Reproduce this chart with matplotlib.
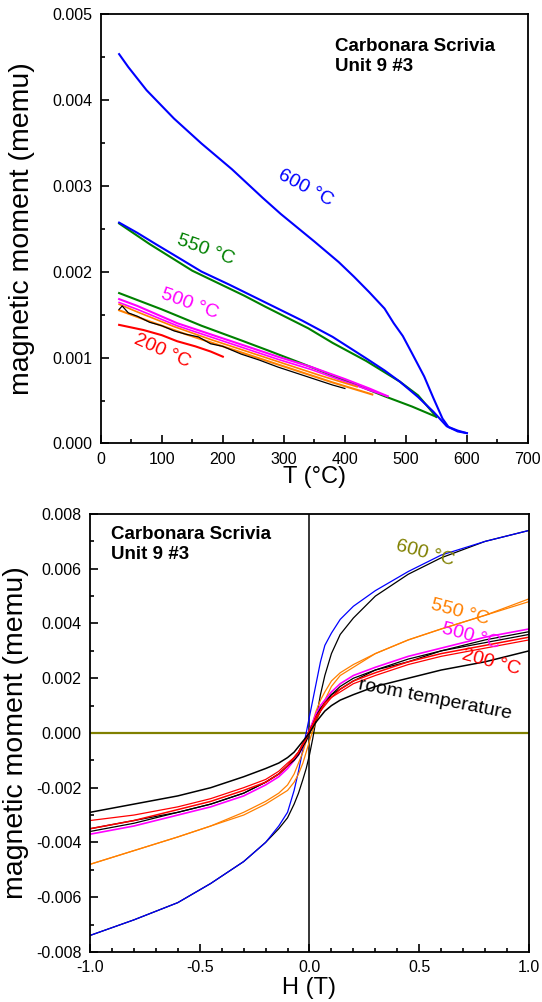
import matplotlib
matplotlib.use('Agg')
import matplotlib.pyplot as plt
from matplotlib.ticker import MultipleLocator, FormatStrFormatter

plt.rcParams['font.family'] = ['Liberation Sans', 'DejaVu Sans']
plt.rcParams['axes.unicode_minus'] = False

# ---- top panel: M(T) heating curves ----
T600a = [30, 45, 75, 120, 165, 215, 265, 295, 350, 390, 415, 440, 465, 480, 495, 510, 530, 545, 560, 570, 585, 600]
M600a = [0.00453, 0.00438, 0.00411, 0.00378, 0.00349, 0.00319, 0.00286, 0.00267, 0.00235, 0.00211, 0.00194,
         0.00176, 0.00157, 0.00140, 0.00125, 0.00105, 0.00078, 0.00053, 0.00029, 0.00019, 0.00014, 0.00012]
T600b = [30, 60, 90, 130, 165, 210, 250, 290, 330, 380, 435, 465, 490, 520, 545, 567, 585, 600]
M600b = [0.00257, 0.00245, 0.00232, 0.00215, 0.00200, 0.00185, 0.00171, 0.00157, 0.00143, 0.00124, 0.00099,
         0.00085, 0.00072, 0.00054, 0.00037, 0.00020, 0.00015, 0.00012]
T550a = [30, 80, 150, 235, 270, 340, 380, 435, 490, 520, 550]
M550a = [0.00256, 0.00232, 0.00201, 0.00172, 0.00159, 0.00134, 0.00117, 0.00096, 0.00072, 0.00056, 0.00031]
T550b = [30, 100, 165, 230, 275, 330, 380, 430, 465, 510, 550]
M550b = [0.00175, 0.00156, 0.00137, 0.00120, 0.00108, 0.00093, 0.00079, 0.00065, 0.00055, 0.00043, 0.00031]
T500 = [30, 60, 125, 180, 235, 290, 345, 400, 440, 470]
M500a = [0.00168, 0.00160, 0.00140, 0.00127, 0.00114, 0.00101, 0.00089, 0.00075, 0.00064, 0.00055]
M500b = [0.00164, 0.00156, 0.00137, 0.00124, 0.00111, 0.00098, 0.00086, 0.00072, 0.00062, 0.00055]
Tor_a = [30, 80, 140, 200, 260, 320, 380, 445]
Mor_a = [0.00155, 0.00142, 0.00127, 0.00113, 0.00099, 0.00085, 0.00071, 0.00057]
Tor_b = [30, 60, 120, 180, 240, 300, 360, 420]
Mor_b = [0.00162, 0.00153, 0.00136, 0.00121, 0.00107, 0.00093, 0.00079, 0.00066]
Tblk = [30, 35, 45, 60, 80, 100, 120, 140, 160, 180, 200, 230, 260, 290, 320, 350, 380, 400]
Mblk = [0.00156, 0.00160, 0.00152, 0.00148, 0.00141, 0.00137, 0.00131, 0.00127, 0.00124, 0.00116, 0.00113,
        0.00104, 0.00097, 0.00089, 0.00082, 0.00075, 0.00068, 0.00064]
T200 = [30, 70, 100, 125, 155, 180, 200]
M200 = [0.00138, 0.00132, 0.00126, 0.00119, 0.00113, 0.00107, 0.00101]

# ---- bottom panel: hysteresis loops ----
H = [-1.0, -0.8, -0.6, -0.45, -0.3, -0.2, -0.14, -0.1, -0.07, -0.05, -0.03, -0.015, 0.0,
     0.015, 0.03, 0.05, 0.07, 0.1, 0.14, 0.2, 0.3, 0.45, 0.6, 0.8, 1.0]
m600_blue = [-0.0074, -0.00683, -0.0062, -0.0055, -0.0047, -0.0040, -0.0034, -0.0029, -0.0021, -0.0014, -0.0006,
             0.0000, 0.0006, 0.0012, 0.0018, 0.0026, 0.0032, 0.00365, 0.00415, 0.00463, 0.0052, 0.0059, 0.0065,
             0.0070, 0.0074]
m600_black = [-0.0074, -0.00683, -0.0062, -0.0055, -0.0047, -0.0040, -0.0035, -0.0031, -0.0026, -0.0022, -0.0017,
              -0.0013, -0.0008, -0.0002, 0.0005, 0.0014, 0.0021, 0.0029, 0.0036, 0.0042, 0.0050, 0.0058, 0.0064,
              0.0070, 0.0074]
m550_a = [-0.0048, -0.0043, -0.0038, -0.0034, -0.0029, -0.0025, -0.0022, -0.0019, -0.0015, -0.0011, -0.0007,
          -0.0003, 0.0001, 0.0004, 0.0008, 0.0012, 0.0015, 0.0019, 0.0022, 0.0025, 0.0029, 0.0034, 0.0038,
          0.0043, 0.0048]
m550_b = [-0.0048, -0.0043, -0.0038, -0.0034, -0.0030, -0.0026, -0.0023, -0.0021, -0.0018, -0.0015, -0.0011,
          -0.0007, -0.0003, 0.0001, 0.0004, 0.0008, 0.0012, 0.0017, 0.0021, 0.0024, 0.0029, 0.0034, 0.0038,
          0.0043, 0.0049]
m500 = [-0.0037, -0.0034, -0.0030, -0.0027, -0.0023, -0.0019, -0.0016, -0.0013, -0.0010, -0.0008, -0.0005,
        -0.0002, 0.0001, 0.0004, 0.0007, 0.0010, 0.0012, 0.0015, 0.0018, 0.0021, 0.0024, 0.0028, 0.0031,
        0.0035, 0.0038]
m_blk1 = [-0.0036, -0.0033, -0.0029, -0.0026, -0.0022, -0.0018, -0.0015, -0.0012, -0.0009, -0.0007, -0.0004,
          -0.0002, 0.0001, 0.0003, 0.0006, 0.0009, 0.0011, 0.0014, 0.0017, 0.0020, 0.0023, 0.0027, 0.0030,
          0.0034, 0.0037]
m_blk2 = [-0.0035, -0.0032, -0.0029, -0.0026, -0.0022, -0.0018, -0.0015, -0.0012, -0.0010, -0.0008, -0.0005,
          -0.0003, 0.0000, 0.0003, 0.0005, 0.0008, 0.0011, 0.0014, 0.0016, 0.0019, 0.0023, 0.0026, 0.0030,
          0.0033, 0.0036]
m200_a = [-0.0035, -0.0032, -0.0028, -0.0025, -0.0021, -0.0018, -0.0015, -0.0012, -0.0009, -0.0007, -0.0004,
          -0.0002, 0.0001, 0.0003, 0.0006, 0.0008, 0.0011, 0.0013, 0.0016, 0.0019, 0.0022, 0.0026, 0.0029,
          0.0032, 0.0035]
m200_b = [-0.0032, -0.0030, -0.0027, -0.0024, -0.0020, -0.0017, -0.0014, -0.0011, -0.0009, -0.0007, -0.0004,
          -0.0002, 0.0000, 0.0003, 0.0005, 0.0008, 0.0010, 0.0013, 0.0015, 0.0018, 0.0021, 0.0025, 0.0028,
          0.0031, 0.0034]
m_room = [-0.0029, -0.0026, -0.0023, -0.0020, -0.0016, -0.0013, -0.0011, -0.0009, -0.0007, -0.0005, -0.0003,
          -0.00015, 0.0000, 0.0002, 0.0004, 0.0006, 0.0008, 0.0010, 0.0012, 0.0014, 0.0017, 0.0020, 0.0023,
          0.0026, 0.0030]

BLUE = '#0000ff'
GREEN = '#008000'
MAGENTA = '#ff00ff'
RED = '#ff0000'
ORANGE = '#ff8000'
OLIVE = '#808000'

fig = plt.figure(figsize=(5.42, 10.02), dpi=100)
ax1 = fig.add_axes([0.186, 0.5574, 0.788, 0.4289])
ax2 = fig.add_axes([0.166, 0.050, 0.810, 0.437])


def style(ax):
    for s in ax.spines.values():
        s.set_linewidth(1.3)
    ax.tick_params(which='both', direction='in', top=False, right=False, labelsize=11.5, width=1.2, pad=6)
    ax.tick_params(which='major', length=6)
    ax.tick_params(which='minor', length=3.2)


# top panel
lw = 1.5
ax1.plot(T600a, M600a, color=BLUE, lw=lw)
ax1.plot(T550a, M550a, color=GREEN, lw=lw)
ax1.plot(T550b, M550b, color=GREEN, lw=lw)
ax1.plot(T600b, M600b, color=BLUE, lw=lw)
ax1.plot(T500, M500a, color=MAGENTA, lw=lw)
ax1.plot(T500, M500b, color=MAGENTA, lw=1.2)
ax1.plot(Tor_b, Mor_b, color=ORANGE, lw=1.2)
ax1.plot(Tor_a, Mor_a, color=ORANGE, lw=lw)
ax1.plot(Tblk, Mblk, color='black', lw=0.9)
ax1.plot(T200, M200, color=RED, lw=lw)

ax1.set_xlim(0, 700)
ax1.set_ylim(0, 0.005)
ax1.xaxis.set_major_locator(MultipleLocator(100))
ax1.xaxis.set_minor_locator(MultipleLocator(50))
ax1.yaxis.set_major_locator(MultipleLocator(0.001))
ax1.yaxis.set_minor_locator(MultipleLocator(0.0005))
ax1.yaxis.set_major_formatter(FormatStrFormatter('%.3f'))
style(ax1)
ax1.set_xlabel('T (°C)', fontsize=17)
ax1.set_ylabel('magnetic moment (memu)', fontsize=20.5)
ax1.xaxis.set_label_coords(0.5, -0.052)
ax1.yaxis.set_label_coords(-0.154, 0.5)

ax1.text(0.548, 0.9435, 'Carbonara Scrivia\nUnit 9 #3', transform=ax1.transAxes, fontsize=13.5,
         fontweight='bold', va='top', ha='left', linespacing=1.25)
ax1.text(335, 0.00297, '600 °C', color=BLUE, fontsize=14, rotation=-28, ha='center', va='center')
ax1.text(171, 0.00225, '550 °C', color=GREEN, fontsize=14, rotation=-20, ha='center', va='center')
ax1.text(145, 0.00162, '500 °C', color=MAGENTA, fontsize=14, rotation=-20, ha='center', va='center')
ax1.text(101, 0.00108, '200 °C', color=RED, fontsize=14, rotation=-24, ha='center', va='center')

# bottom panel
ax2.axvline(0, color='black', lw=1.1)
ax2.axhline(0, color=OLIVE, lw=1.6)
lw2 = 0.9
ax2.plot(H, m600_black, color='black', lw=lw2)
ax2.plot(H, m600_blue, color=BLUE, lw=lw2)
ax2.plot(H, m550_b, color=ORANGE, lw=lw2)
ax2.plot(H, m550_a, color=ORANGE, lw=lw2)
ax2.plot(H, m500, color=MAGENTA, lw=lw2 + 0.3)
ax2.plot(H, m_blk1, color='black', lw=lw2)
ax2.plot(H, m_blk2, color='black', lw=lw2)
ax2.plot(H, m200_a, color=RED, lw=lw2 + 0.2)
ax2.plot(H, m200_b, color=RED, lw=lw2)
ax2.plot(H, m_room, color='black', lw=lw2 + 0.2)

ax2.set_xlim(-1.0, 1.0)
ax2.set_ylim(-0.008, 0.008)
ax2.xaxis.set_major_locator(MultipleLocator(0.5))
ax2.xaxis.set_minor_locator(MultipleLocator(0.1))
ax2.xaxis.set_major_formatter(FormatStrFormatter('%.1f'))
ax2.yaxis.set_major_locator(MultipleLocator(0.002))
ax2.yaxis.set_minor_locator(MultipleLocator(0.001))
ax2.yaxis.set_major_formatter(FormatStrFormatter('%.3f'))
style(ax2)
ax2.set_xlabel('H (T)', fontsize=17)
ax2.set_ylabel('magnetic moment (memu)', fontsize=20.5)
ax2.xaxis.set_label_coords(0.5, -0.058)
ax2.yaxis.set_label_coords(-0.139, 0.5)

ax2.text(0.049, 0.973, 'Carbonara Scrivia\nUnit 9 #3', transform=ax2.transAxes, fontsize=13.5,
         fontweight='bold', va='top', ha='left', linespacing=1.25)
ax2.text(0.526, 0.00658, '600 °C', color=OLIVE, fontsize=14, rotation=-15, ha='center', va='center')
ax2.text(0.686, 0.00442, '550 °C', color=ORANGE, fontsize=14, rotation=-15, ha='center', va='center')
ax2.text(0.736, 0.00354, '500 °C', color=MAGENTA, fontsize=14, rotation=-15, ha='center', va='center')
ax2.text(0.827, 0.00259, '200 °C', color=RED, fontsize=14, rotation=-15, ha='center', va='center')
ax2.text(0.572, 0.00121, 'room temperature', color='black', fontsize=14, rotation=-11, ha='center',
         va='center')

fig.savefig('out.png', dpi=100)
